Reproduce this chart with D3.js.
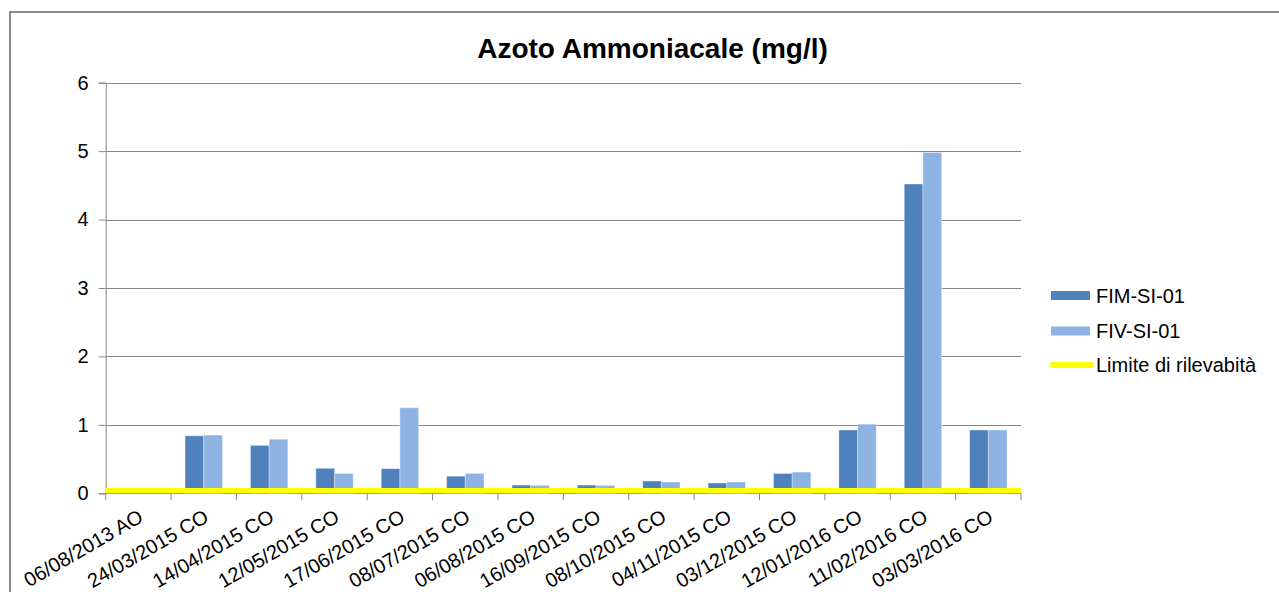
<!DOCTYPE html>
<html>
<head>
<meta charset="utf-8">
<script src="https://cdn.jsdelivr.net/npm/d3@7"></script>
<style>
  html, body { margin: 0; padding: 0; background: #fff; }
  svg text { font-family: "Liberation Sans", Arial, sans-serif; fill: #000; }
</style>
</head>
<body>
<svg id="chart" width="1279" height="592"></svg>
<script>
const title = "Azoto Ammoniacale (mg/l)";
const categories = [
  "06/08/2013 AO", "24/03/2015 CO", "14/04/2015 CO", "12/05/2015 CO",
  "17/06/2015 CO", "08/07/2015 CO", "06/08/2015 CO", "16/09/2015 CO",
  "08/10/2015 CO", "04/11/2015 CO", "03/12/2015 CO", "12/01/2016 CO",
  "11/02/2016 CO", "03/03/2016 CO"
];
const seriesNames = ["FIM-SI-01", "FIV-SI-01"];
const fimValues = [null, 0.84, 0.70, 0.365, 0.36, 0.25, 0.12, 0.12, 0.18, 0.15, 0.29, 0.925, 4.52, 0.925];
const fivValues = [null, 0.85, 0.79, 0.29, 1.25, 0.29, 0.115, 0.115, 0.165, 0.165, 0.31, 1.01, 4.98, 0.925];
const limitName = "Limite di rilevabità";
const limitValue = 0.04;
const yTicks = [0, 1, 2, 3, 4, 5, 6];

const colors = { "FIM-SI-01": "#4F81BD", "FIV-SI-01": "#8DB3E2" };

const svg = d3.select("#chart");
const plotL = 105.7, plotR = 1021, plotT = 82.7, plotB = 493.3;

// outer border
svg.append("rect")
  .attr("x", 10).attr("y", 12).attr("width", 1300).attr("height", 620)
  .attr("fill", "none").attr("stroke", "#8a8a8a").attr("stroke-width", 2);

const x0 = d3.scaleBand().domain(categories).range([plotL, plotR]).padding(0);
const bw = x0.bandwidth();
const x1 = d3.scaleBand().domain(seriesNames).range([bw * 0.75 / 3.5, bw * 2.75 / 3.5]).padding(0);
const y = d3.scaleLinear().domain([0, 6]).range([plotB, plotT]);

// gridlines
svg.append("g")
  .selectAll("line").data(yTicks.filter(d => d > 0)).join("line")
  .attr("x1", plotL).attr("x2", plotR)
  .attr("y1", d => Math.round(y(d)) + 0.5).attr("y2", d => Math.round(y(d)) + 0.5)
  .attr("stroke", "#878787").attr("stroke-width", 1);

// y axis
const yAxis = d3.axisLeft(y).tickValues(yTicks).tickSize(7).tickPadding(10).tickFormat(d3.format("d"));
const gy = svg.append("g").attr("transform", `translate(${plotL},0)`).call(yAxis);
gy.select(".domain").attr("stroke", "#878787");
gy.selectAll(".tick line").attr("stroke", "#878787");
gy.selectAll(".tick text").attr("font-size", 20).style("font-family", '"Liberation Sans", Arial, sans-serif').attr("fill", "#000");

// x axis line & ticks at category boundaries
const boundaries = categories.map(c => x0(c)).concat([plotR]);
svg.append("line").attr("x1", plotL).attr("x2", plotR).attr("y1", plotB).attr("y2", plotB)
  .attr("stroke", "#878787");
svg.append("g").selectAll("line").data(boundaries).join("line")
  .attr("x1", d => d).attr("x2", d => d).attr("y1", plotB).attr("y2", plotB + 7)
  .attr("stroke", "#878787");

// bars
const rows = categories.map((c, i) => ({ cat: c, vals: [
  { name: seriesNames[0], v: fimValues[i] },
  { name: seriesNames[1], v: fivValues[i] }
]}));
const groups = svg.append("g").selectAll("g").data(rows).join("g")
  .attr("transform", d => `translate(${x0(d.cat)},0)`);
groups.selectAll("rect").data(d => d.vals.filter(v => v.v != null)).join("rect")
  .attr("x", d => x1(d.name))
  .attr("width", x1.bandwidth())
  .attr("y", d => y(d.v))
  .attr("height", d => y(0) - y(d.v))
  .attr("fill", d => colors[d.name])
  .attr("stroke", "rgba(255,255,255,0.35)").attr("stroke-width", 1);

// limit line
svg.append("line")
  .attr("x1", plotL).attr("x2", plotR)
  .attr("y1", y(limitValue)).attr("y2", y(limitValue))
  .attr("stroke", "#FFFF00").attr("stroke-width", 5);

// x labels
svg.append("g").selectAll("text").data(categories).join("text")
  .attr("transform", d => `translate(${x0(d) + bw / 2 - 1},${plotB + 15}) rotate(-30)`)
  .attr("text-anchor", "end")
  .attr("dy", "0.72em")
  .attr("font-size", 20)
  .text(d => d);

// title
svg.append("text")
  .attr("x", 652.5).attr("y", 57.5)
  .attr("text-anchor", "middle")
  .attr("font-size", 28).attr("font-weight", "bold")
  .text(title);

// legend
const lg = svg.append("g");
const lx = 1051, lrows = [295.5, 331, 365];
seriesNames.forEach((n, i) => {
  lg.append("rect").attr("x", lx).attr("y", lrows[i] - 4.5).attr("width", 39).attr("height", 9)
    .attr("fill", colors[n]);
  lg.append("text").attr("x", 1096).attr("y", lrows[i]).attr("dy", "0.36em")
    .attr("font-size", 20).text(n);
});
lg.append("line").attr("x1", lx + 2).attr("x2", lx + 40).attr("y1", lrows[2]).attr("y2", lrows[2])
  .attr("stroke", "#FFFF00").attr("stroke-width", 6).attr("stroke-linecap", "round");
lg.append("text").attr("x", 1096).attr("y", lrows[2]).attr("dy", "0.36em")
  .attr("font-size", 20).text(limitName);
</script>
</body>
</html>
